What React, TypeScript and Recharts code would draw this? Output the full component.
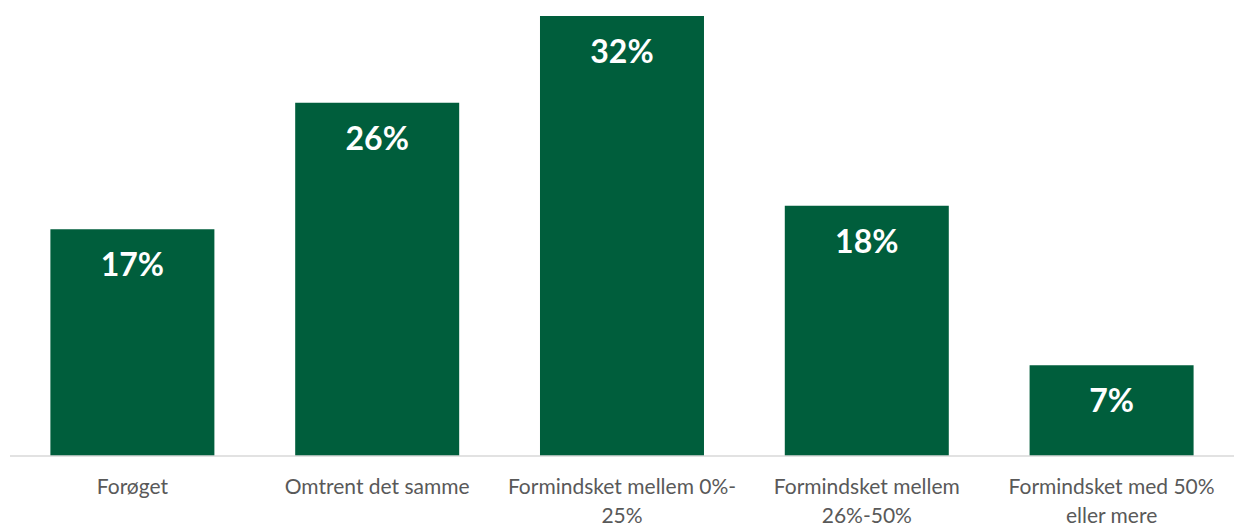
import { BarChart, Bar, XAxis, YAxis, LabelList } from 'recharts';

const categories = [
  'Forøget',
  'Omtrent det samme',
  'Formindsket mellem 0%-|25%',
  'Formindsket mellem|26%-50%',
  'Formindsket med 50%|eller mere',
];
const shares = [16.5, 25.7, 32.0, 18.2, 6.6];

const data = categories.map((name, i) => ({ name, value: shares[i] }));

const FONT = 'Lato, "Open Sans", sans-serif';

function Tick(props: any) {
  const { x, y, payload } = props;
  const lines = String(payload.value).split('|');
  return (
    <text x={x} y={y} textAnchor="middle" fill="#595959" fontSize={21} fontFamily={FONT}>
      {lines.map((l, i) => (
        <tspan key={i} x={x} dy={i === 0 ? 30 : 29}>
          {l}
        </tspan>
      ))}
    </text>
  );
}

function ValueLabel(props: any) {
  const { x, y, width, value } = props;
  return (
    <text
      x={x + width / 2}
      y={y + 47}
      textAnchor="middle"
      fill="#ffffff"
      fontSize={32}
      fontWeight={700}
      fontFamily={FONT}
    >
      {Math.round(value)}%
    </text>
  );
}

export default function App() {
  return (
    <div style={{ position: 'absolute', left: 0, top: 0, background: '#fff' }}>
      <BarChart
        width={1234}
        height={528}
        data={data}
        margin={{ top: 16, right: 0, bottom: 0, left: 10 }}
        barCategoryGap="16.5%"
      >
        <XAxis
          dataKey="name"
          axisLine={{ stroke: '#d9d9d9', strokeWidth: 1.5 }}
          tickLine={false}
          tick={<Tick />}
          interval={0}
          height={72}
        />
        <YAxis hide domain={[0, 32]} />
        <Bar dataKey="value" fill="#005E3C" isAnimationActive={false}>
          <LabelList dataKey="value" content={<ValueLabel />} />
        </Bar>
      </BarChart>
    </div>
  );
}
